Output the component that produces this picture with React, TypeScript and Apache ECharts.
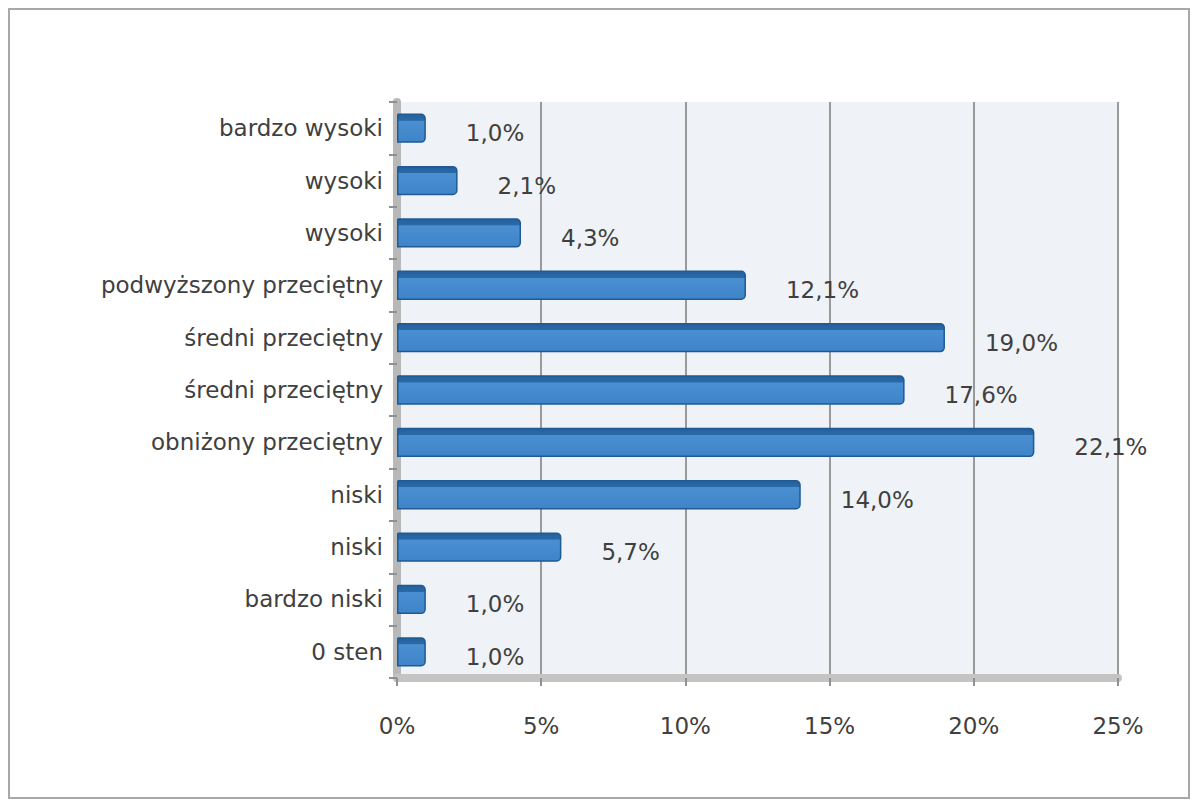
import React, { useEffect, useRef } from "react";
import * as echarts from "echarts";

const categories = [
  "0 sten",
  "bardzo niski",
  "niski",
  "niski",
  "obniżony przeciętny",
  "średni przeciętny",
  "średni przeciętny",
  "podwyższony przeciętny",
  "wysoki",
  "wysoki",
  "bardzo wysoki",
];
const values = [1.0, 1.0, 5.7, 14.0, 22.1, 17.6, 19.0, 12.1, 4.3, 2.1, 1.0];
const xTicks = { min: 0, max: 25, interval: 5 };

export default function App() {
  const ref = useRef<HTMLDivElement>(null);
  useEffect(() => {
    if (!ref.current) return;
    const chart = echarts.init(ref.current, null, { renderer: "svg" });
    const font = "'DejaVu Sans', 'Noto Sans', sans-serif";
    chart.setOption({
      animation: false,
      backgroundColor: "#ffffff",
      grid: {
        left: 387,
        right: 70,
        top: 92,
        bottom: 119,
        show: true,
        backgroundColor: "#eff2f6",
        borderWidth: 0,
      },
      xAxis: {
        type: "value",
        min: xTicks.min,
        max: xTicks.max,
        interval: xTicks.interval,
        axisLabel: {
          formatter: "{value}%",
          color: "#404040",
          fontFamily: font,
          fontSize: 23,
          margin: 36,
        },
        axisLine: { show: true, lineStyle: { color: "#c4c4c4", width: 8 } },
        axisTick: { show: true, length: 8, lineStyle: { color: "#909090", width: 2 } },
        splitLine: { show: true, lineStyle: { color: "#9a9a9a", width: 2 } },
      },
      yAxis: {
        type: "category",
        data: categories,
        axisLabel: {
          color: "#404040",
          fontFamily: font,
          fontSize: 23,
          margin: 14,
        },
        axisLine: { show: true, lineStyle: { color: "#b8b8b8", width: 8 } },
        axisTick: { show: true, length: 8, lineStyle: { color: "#909090", width: 2 } },
      },
      series: [
        {
          type: "bar",
          data: values,
          barWidth: "56%",
          itemStyle: {
            color: new echarts.graphic.LinearGradient(0, 0, 0, 1, [
              { offset: 0, color: "#24609c" },
              { offset: 0.22, color: "#2a69a8" },
              { offset: 0.24, color: "#4a8fd2" },
              { offset: 1, color: "#3f84c8" },
            ]),
            borderColor: "#1f5a94",
            borderWidth: 1.5,
            borderRadius: [0, 4, 4, 0],
          },
          label: {
            show: true,
            position: "right",
            distance: 40,
            offset: [0, 5],
            color: "#404040",
            fontFamily: font,
            fontSize: 23,
            formatter: (p: any) => p.value.toFixed(1).replace(".", ",") + "%",
          },
        },
      ],
    });
    return () => chart.dispose();
  }, []);
  return (
    <div style={{ width: 1182, height: 791, border: "2px solid #a8a8a8", boxSizing: "border-box" }}>
      <div ref={ref} style={{ width: 1178, height: 787 }} />
    </div>
  );
}
